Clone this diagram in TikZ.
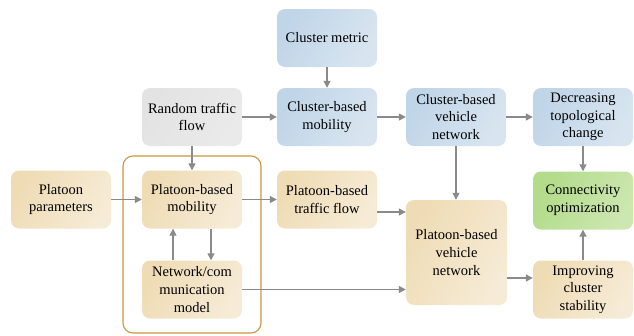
\documentclass[tikz,border=0pt]{standalone}
\usepackage{fontspec}
\setmainfont{Liberation Serif}
\usetikzlibrary{arrows.meta}
\definecolor{blueA}{HTML}{C0D5E8}
\definecolor{blueB}{HTML}{D8E5F0}
\definecolor{tanA}{HTML}{EFDCB5}
\definecolor{tanB}{HTML}{F6EBD6}
\definecolor{greenA}{HTML}{B2DB8A}
\definecolor{greenB}{HTML}{CCE7B0}
\definecolor{grayA}{HTML}{E3E3E3}
\definecolor{grayB}{HTML}{EAEAEA}
\definecolor{arrgray}{HTML}{8A8A8A}
\definecolor{frame}{HTML}{C9983C}
\tikzset{
  box/.style={rounded corners=8pt, minimum width=100pt, minimum height=58pt,
    align=center, inner sep=2pt, text=black,
    font=\fontsize{14.5}{17.7}\selectfont},
  bluebox/.style={box, left color=blueA, right color=blueB, shading angle=60},
  tanbox/.style={box, left color=tanA, right color=tanB, shading angle=60},
  greenbox/.style={box, left color=greenA, right color=greenB, shading angle=60},
  graybox/.style={box, left color=grayA, right color=grayB, shading angle=60},
  arr/.style={draw=arrgray, line width=1.3pt, -{Triangle[length=7pt,width=7pt]}}
}
\begin{document}
\begin{tikzpicture}[x=1pt,y=-1pt]
\useasboundingbox (0,0) rectangle (634,335);
\node[draw=frame, line width=1.1pt, rounded corners=10pt, minimum width=138pt, minimum height=177pt, inner sep=0pt] (grp) at (192,244.5) {};
\node[bluebox] (cm) at (327,38) {Cluster metric};
\node[graybox] (rtf) at (192,117) {Random traffic\\flow};
\node[bluebox] (cbm) at (327,117) {Cluster-based\\mobility};
\node[bluebox] (cvn) at (456,117) {Cluster-based\\vehicle\\network};
\node[bluebox] (dtc) at (583,117) {Decreasing\\topological\\change};
\node[tanbox] (pp) at (61,199.5) {Platoon\\parameters};
\node[tanbox] (pbm) at (192,199.5) {Platoon-based\\mobility};
\node[tanbox] (ncm) at (192,289.5) {Network/com\\munication\\model};
\node[tanbox] (ptf) at (327,199.5) {Platoon-based\\traffic flow};
\node[tanbox, minimum width=101pt, minimum height=105pt] (pvn) at (456.5,252.5) {Platoon-based\\vehicle\\network};
\node[greenbox] (co) at (583,200.5) {Connectivity\\optimization};
\node[tanbox] (ics) at (583,289.5) {Improving\\cluster\\stability};
\draw[arr] (cm) -- (cbm);
\draw[arr] (rtf) -- (cbm);
\draw[arr] (rtf) -- (pbm);
\draw[arr] (cbm) -- (cvn);
\draw[arr] (cvn) -- (dtc);
\draw[arr] (cvn.south) -- (cvn.south |- pvn.north);
\draw[arr] (dtc) -- (co);
\draw[arr] (pp) -- (pbm);
\draw[arr] (pbm) -- (ptf);
\draw[arr] ([xshift=19pt]pbm.south) -- ([xshift=19pt]ncm.north);
\draw[arr] ([xshift=-19pt]ncm.north) -- ([xshift=-19pt]pbm.south);
\draw[arr] ([yshift=-12.5pt]ptf.east) -- ([yshift=-12.5pt]ptf.east -| pvn.west);
\draw[arr] (ncm.east) -- (ncm.east -| pvn.west);
\draw[arr] ([yshift=-25.5pt]pvn.east) -- ([yshift=-25.5pt]pvn.east -| ics.west);
\draw[arr] (ics) -- (co);
\end{tikzpicture}
\end{document}
